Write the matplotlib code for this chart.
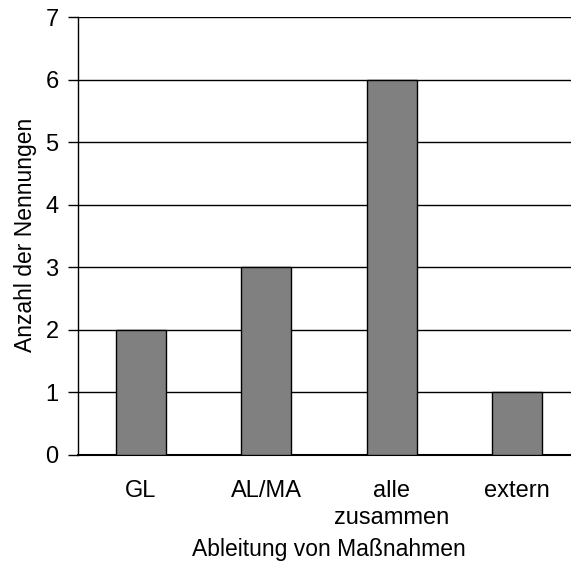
import matplotlib.pyplot as plt

# Anzahl der Nennungen je Ableitungsweg
categories = ["GL", "AL/MA", "alle\nzusammen", "extern"]
counts = [2, 3, 6, 1]
y_ticks = [0, 1, 2, 3, 4, 5, 6, 7]

plt.rcParams['font.family'] = ['Liberation Sans', 'DejaVu Sans']

fig = plt.figure(figsize=(5.71, 5.68), dpi=100)
# plot area runs past the right edge, as in the original export
ax = fig.add_axes([0.1366, 0.199, 0.879, 0.771])

x = range(len(categories))
ax.bar(x, counts, width=0.4, color='#808080', edgecolor='black', linewidth=1, zorder=3)

ax.set_xlim(-0.5, len(categories) - 0.5)
ax.set_ylim(0, 7)
ax.set_yticks(y_ticks)
ax.set_xticks(list(x))
ax.set_xticklabels(categories, fontsize=17, linespacing=1.3)
ax.tick_params(axis='x', length=0, pad=18)
ax.tick_params(axis='y', length=7, width=1, labelsize=17, pad=7, direction='out')

ax.grid(axis='y', color='black', linewidth=1, zorder=1)
for side in ['top', 'right']:
    ax.spines[side].set_visible(False)
ax.spines['left'].set_linewidth(1)
ax.spines['bottom'].set_linewidth(1.5)

ax.set_ylabel("Anzahl der Nennungen", fontsize=16.5, va='center')
ax.yaxis.set_label_coords(-0.104, 0.502)
ax.set_xlabel("Ableitung von Maßnahmen", fontsize=16.5, va='center')
ax.xaxis.set_label_coords(0.5, -0.217)

fig.savefig("out.png", dpi=100)
